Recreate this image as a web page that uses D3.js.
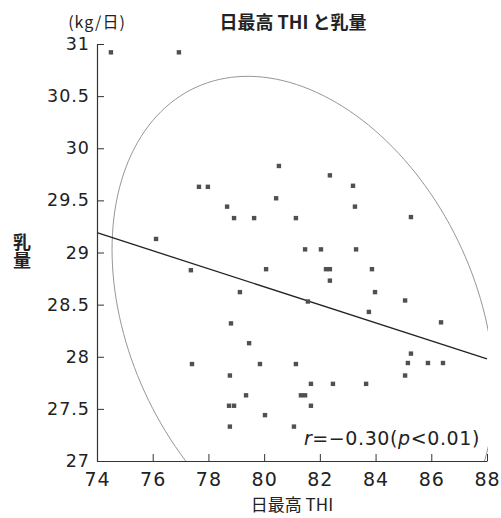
<!DOCTYPE html>
<html>
<head>
<meta charset="utf-8">
<script src="https://cdn.jsdelivr.net/npm/d3@7.9.0/dist/d3.min.js"></script>
<style>
  body { margin: 0; background: #fff; }
  svg { display: block; }
  .tick text { font-family: "DejaVu Sans", sans-serif; fill: #222; letter-spacing: 1px; }
  .jp { font-family: "Noto Sans CJK JP", sans-serif; fill: #222; }
</style>
</head>
<body>
<svg id="chart" width="501" height="518"></svg>
<script>
// 日最高 THI (x) と 乳量 kg/日 (y)
const thi = [74.50, 76.94, 77.66, 77.98, 80.53, 82.36, 83.19, 80.43, 78.67, 83.26,
  78.92, 79.64, 81.14, 85.27, 76.12, 81.47, 82.04, 83.30, 77.37, 80.07,
  82.22, 82.36, 83.87, 82.36, 83.98, 79.13, 85.06, 81.57, 83.76, 86.35,
  78.81, 79.46, 85.27, 77.41, 79.85, 81.14, 85.16, 85.88, 86.42, 78.77,
  85.06, 81.68, 82.47, 83.66, 79.35, 81.32, 81.47, 78.74, 78.92, 81.68,
  80.03, 78.77, 81.07];
const milk = [30.92, 30.92, 29.63, 29.63, 29.83, 29.74, 29.64, 29.52, 29.44, 29.44,
  29.33, 29.33, 29.33, 29.34, 29.13, 29.03, 29.03, 29.03, 28.83, 28.84,
  28.84, 28.84, 28.84, 28.73, 28.62, 28.62, 28.54, 28.53, 28.43, 28.33,
  28.32, 28.13, 28.03, 27.93, 27.93, 27.93, 27.94, 27.94, 27.94, 27.82,
  27.82, 27.74, 27.74, 27.74, 27.63, 27.63, 27.63, 27.53, 27.53, 27.53,
  27.44, 27.33, 27.33];

const xTicks = [74, 76, 78, 80, 82, 84, 86, 88];
const yTicks = [27, 27.5, 28, 28.5, 29, 29.5, 30, 30.5, 31];

// regression line end points
const fitX = [74, 88];
const fitY = [29.19, 27.98];

// ellipse: centre, standard deviations, correlation
const ellCenter = [81.4, 28.35];
const ellSD = [6.86, 2.34];
const ellRho = -0.29;

const svg = d3.select('#chart');
const x = d3.scaleLinear().domain([74, 88]).range([97, 487]);
const y = d3.scaleLinear().domain([27, 31]).range([461, 44]);

svg.append('clipPath').attr('id', 'plot')
  .append('rect')
  .attr('x', x(74)).attr('y', y(31) - 10)
  .attr('width', x(88) - x(74) + 1).attr('height', y(27) - y(31) + 10);

// ellipse
const ts = d3.range(0, 2 * Math.PI + 0.01, Math.PI / 90);
const ellPts = ts.map(t => [
  ellCenter[0] + ellSD[0] * Math.cos(t),
  ellCenter[1] + ellSD[1] * (ellRho * Math.cos(t) + Math.sqrt(1 - ellRho * ellRho) * Math.sin(t))
]);
svg.append('path')
  .attr('clip-path', 'url(#plot)')
  .attr('d', d3.line().x(d => x(d[0])).y(d => y(d[1]))(ellPts))
  .attr('fill', 'none')
  .attr('stroke', '#8a8a8a')
  .attr('stroke-width', 0.9);

// regression line
svg.append('line')
  .attr('x1', x(fitX[0])).attr('y1', y(fitY[0]))
  .attr('x2', x(fitX[1])).attr('y2', y(fitY[1]))
  .attr('stroke', '#222')
  .attr('stroke-width', 1.3);

// points
svg.append('g').selectAll('rect')
  .data(thi)
  .join('rect')
  .attr('x', (d, i) => x(d) - 2.2)
  .attr('y', (d, i) => y(milk[i]) - 2.2)
  .attr('width', 4.4)
  .attr('height', 4.4)
  .attr('fill', '#505050');

// axes
const yAxis = svg.append('g')
  .attr('transform', `translate(${x(74)},0)`)
  .call(d3.axisLeft(y).tickValues(yTicks).tickFormat(d => d).tickSizeInner(-7).tickSizeOuter(0).tickPadding(7));
yAxis.selectAll('text').style('font-size', '17.5px');

const xAxis = svg.append('g')
  .attr('transform', `translate(0,${y(27)})`)
  .call(d3.axisBottom(x).tickValues(xTicks).tickFormat(d => d).tickSizeInner(-7).tickSizeOuter(0).tickPadding(12));
xAxis.selectAll('text').style('font-size', '19px');

svg.selectAll('.domain').attr('stroke', '#333').attr('stroke-width', 1.2);
svg.selectAll('.tick line').attr('stroke', '#333').attr('stroke-width', 1);

// titles
svg.append('text').attr('class', 'jp')
  .attr('x', 293).attr('y', 29)
  .attr('text-anchor', 'middle')
  .style('font-size', '18px').style('font-weight', 'bold')
  .text('日最高 THI と乳量');

svg.append('text').attr('class', 'jp')
  .attr('x', 97).attr('y', 28)
  .attr('text-anchor', 'middle')
  .style('font-size', '16px').style('letter-spacing', '1px')
  .text('(kg/日)');

// vertical y-axis title
svg.append('text').attr('class', 'jp')
  .attr('x', 22).attr('y', 251)
  .attr('text-anchor', 'middle')
  .style('writing-mode', 'vertical-rl')
  .style('font-size', '18px').style('font-weight', 'bold')
  .text('乳量');

svg.append('text').attr('class', 'jp')
  .attr('x', 292).attr('y', 511)
  .attr('text-anchor', 'middle')
  .style('font-size', '17px')
  .text('日最高 THI');

// correlation note
const note = svg.append('text')
  .attr('x', 480).attr('y', 445)
  .attr('text-anchor', 'end')
  .style('font-family', '"DejaVu Sans", sans-serif')
  .style('font-size', '19px').style('letter-spacing', '0.6px')
  .attr('fill', '#222');
note.append('tspan').style('font-style', 'italic').text('r');
note.append('tspan').text('=−0.30(');
note.append('tspan').style('font-style', 'italic').text('p');
note.append('tspan').text('<0.01)');
</script>
</body>
</html>
